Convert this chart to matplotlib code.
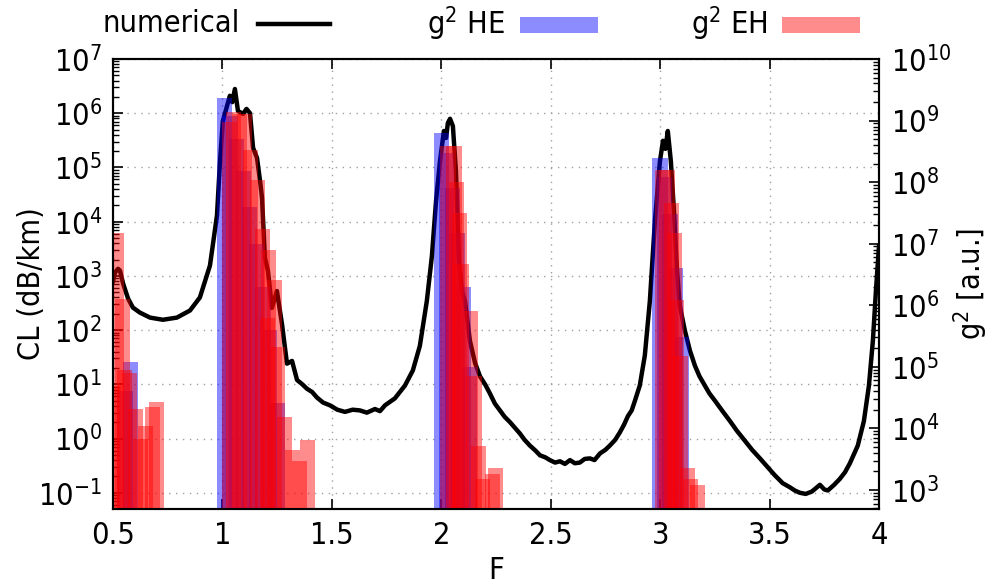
import math
import matplotlib
matplotlib.use("Agg")
import matplotlib.pyplot as plt
from matplotlib.ticker import LogLocator, FuncFormatter, NullFormatter, MultipleLocator, NullLocator
from matplotlib.lines import Line2D
from matplotlib.patches import Rectangle

plt.rcParams['font.family'] = ['DejaVu Sans']
plt.rcParams['font.stretch'] = 'condensed'
plt.rcParams['mathtext.default'] = 'regular'
FS = 22

# ---------------- data ----------------
F_num = [0.500, 0.509, 0.523, 0.532, 0.546, 0.569, 0.591, 0.623, 0.669, 0.728, 0.792, 0.852, 0.897,
         0.943, 0.975, 0.989, 1.002, 1.021, 1.034, 1.045, 1.057, 1.071, 1.094, 1.110, 1.126, 1.140,
         1.158, 1.172, 1.181, 1.194, 1.208, 1.226, 1.249, 1.272, 1.295, 1.318, 1.341, 1.365, 1.386,
         1.410, 1.432, 1.460, 1.491, 1.525, 1.560, 1.595, 1.628, 1.660, 1.697, 1.720, 1.743, 1.788,
         1.834, 1.870, 1.902, 1.934, 1.957, 1.976, 1.994, 2.012, 2.022, 2.030, 2.040, 2.053, 2.067,
         2.081, 2.094, 2.108, 2.131, 2.154, 2.177, 2.200, 2.222, 2.245, 2.268, 2.290, 2.314, 2.335,
         2.359, 2.380, 2.405, 2.430, 2.451, 2.475, 2.496, 2.520, 2.542, 2.565, 2.588, 2.610, 2.633,
         2.655, 2.679, 2.700, 2.725, 2.750, 2.770, 2.795, 2.816, 2.835, 2.853, 2.870, 2.885, 2.907,
         2.930, 2.953, 2.976, 2.999, 3.013, 3.024, 3.035, 3.049, 3.063, 3.077, 3.090, 3.113, 3.136,
         3.159, 3.180, 3.204, 3.225, 3.250, 3.285, 3.319, 3.350, 3.387, 3.420, 3.456, 3.490, 3.524,
         3.560, 3.593, 3.615, 3.638, 3.665, 3.693, 3.710, 3.730, 3.750, 3.766, 3.795, 3.821, 3.845,
         3.867, 3.903, 3.931, 3.954, 3.972, 3.986, 4.000]
CL_num = [800, 1150, 1350, 1250, 725, 380, 260, 210, 170, 155, 170, 230, 400,
          1550, 1.3e4, 1.3e5, 7.2e5, 1.36e6, 2.1e6, 1.6e6, 2.8e6, 1.1e6, 9.7e5, 1.2e6, 1.0e6, 2.3e5,
          1.5e5, 5.6e4, 2.7e4, 2150, 1230, 257, 525, 130, 24, 27, 12, 10, 8.3,
          7.2, 5.7, 4.6, 4.1, 3.4, 3.1, 3.4, 3.3, 3.0, 3.5, 3.2, 4.1, 5.5,
          9.5, 18, 51, 345, 2300, 2.4e4, 1.3e5, 4.7e5, 3.5e5, 6.6e5, 7.9e5, 5.8e5, 8.5e4,
          1860, 525, 345, 63, 25, 14, 10, 6.8, 4.4, 3.3, 2.5, 2.0, 1.6,
          1.24, 0.95, 0.74, 0.60, 0.49, 0.45, 0.40, 0.36, 0.38, 0.34, 0.40, 0.35, 0.36,
          0.42, 0.43, 0.40, 0.53, 0.62, 0.74, 0.95, 1.3, 1.8, 2.6, 3.3, 5.0, 9.5,
          34, 345, 1.0e4, 1.3e5, 3.1e5, 2.2e5, 4.7e5, 1.3e5, 1.6e4, 1230, 280, 98, 42,
          22, 14, 9.5, 6.8, 5.0, 3.2, 2.1, 1.4, 0.91, 0.62, 0.43, 0.30, 0.21,
          0.15, 0.126, 0.11, 0.10, 0.095, 0.105, 0.12, 0.14, 0.115, 0.11, 0.14, 0.18, 0.24,
          0.35, 0.74, 2.1, 9.5, 63, 535, 3550]

F_HE = [0.555, 0.579,
        1.008, 1.035, 1.065, 1.095, 1.125, 1.155, 1.185, 1.215, 1.251,
        2.002, 2.025, 2.050, 2.075, 2.100, 2.130,
        2.999, 3.020, 3.045, 3.070, 3.095]
g2_HE = [4e4, 1.2e5,
         2.3e9, 1.2e9, 5e8, 1.5e8, 4e7, 1e7, 2e6, 4e5, 2.6e4,
         6.2e8, 3e8, 8e7, 1.5e7, 2e6, 1e5,
         2.5e8, 1.2e8, 3e7, 4e6, 3e5]

F_EH = [0.500, 0.517, 0.543, 0.551, 0.574, 0.603, 0.627, 0.650, 0.680, 0.700,
        1.031, 1.050, 1.077, 1.100, 1.127, 1.159, 1.182, 1.209, 1.237, 1.205, 1.251, 1.283, 1.319,
        1.351, 1.388,
        2.030, 2.058, 2.070, 2.083, 2.090, 2.132, 2.150, 2.169, 2.187, 2.233, 2.247,
        3.013, 3.031, 3.052, 3.067, 3.074, 3.093, 3.124, 3.140, 3.172]
g2_EH = [4.8e4, 1.5e7, 1.26e6, 9e4, 8e4, 2.1e4, 6.8e3, 1.1e4, 2.2e4, 2.7e4,
         9.5e8, 1.4e9, 1.3e9, 1.3e9, 3.3e8, 1.1e8, 1.7e7, 7.9e6, 2.6e6, 6.3e5, 2.1e5, 1.55e4, 4.5e3,
         2.9e3, 6.5e3,
         3.8e8, 3.8e8, 1e8, 3.2e7, 4.6e6, 8e5, 7e4, 5.1e3, 1.5e3, 1.8e3, 2.3e3,
         1.6e8, 1.6e8, 4.6e7, 1.5e7, 1.2e6, 1.5e5, 2.3e3, 1.5e3, 1.2e3]

bar_width = 0.07

# ---------------- figure ----------------
fig = plt.figure(figsize=(9.92, 5.85), dpi=100)
ax1 = fig.add_axes([113/992, 76/585, 766/992, 450/585])
ax2 = ax1.twinx()

ax1.set_yscale('log')
ax2.set_yscale('log')
ax1.set_xlim(0.5, 4)
ax1.set_ylim(10**-1.3, 1e7)
ax2.set_ylim(10**2.69, 1e10)

ax1.grid(True, which='major', color='#a0a0a0', linestyle=(0, (1, 4)), linewidth=1.0)
ax1.plot(F_num, CL_num, color='black', lw=3.2, solid_joinstyle='round', zorder=3)

ax2.bar(F_HE, g2_HE, width=bar_width, bottom=1, color='#0000ff', alpha=0.45, linewidth=0)
ax2.bar(F_EH, g2_EH, width=bar_width, bottom=1, color='#ff0000', alpha=0.45, linewidth=0)

fmt = FuncFormatter(lambda v, p: r'10$^{%d}$' % round(math.log10(v)))
for ax in (ax1, ax2):
    ax.yaxis.set_major_locator(LogLocator(base=10, numticks=20))
    ax.yaxis.set_minor_locator(LogLocator(base=10, subs=range(2, 10), numticks=20))
    ax.yaxis.set_major_formatter(fmt)
    ax.yaxis.set_minor_formatter(NullFormatter())

ax1.xaxis.set_major_locator(MultipleLocator(0.5))
ax1.xaxis.set_minor_locator(NullLocator())
ax1.xaxis.set_major_formatter(FuncFormatter(lambda v, p: ('%g' % v)))

ax1.tick_params(axis='x', which='major', direction='in', top=True, length=7, width=1.2,
                labelsize=FS, pad=9)
ax1.tick_params(axis='y', which='major', direction='in', right=False, length=7, width=1.2,
                labelsize=FS, pad=8)
ax1.tick_params(axis='y', which='minor', direction='in', right=False, length=4, width=1)
ax2.tick_params(axis='y', which='major', direction='in', length=7, width=1.2, labelsize=FS, pad=9)
ax2.tick_params(axis='y', which='minor', direction='in', length=4, width=1)

for ax in (ax1, ax2):
    for s in ax.spines.values():
        s.set_linewidth(1.5)

ax1.set_xlabel('F', fontsize=FS)
ax1.xaxis.set_label_coords(0.5, -0.105)
ax1.set_ylabel('CL (dB/km)', fontsize=FS)
ax1.yaxis.set_label_coords(-0.088, 0.5)
ax2.set_ylabel('g$^2$ [a.u.]', fontsize=FS)
ax2.yaxis.set_label_coords(1.094, 0.5)

# ---------------- key (above plot) ----------------
ky = 1 - 24/585
fig.text(240/992, ky, 'numerical', fontsize=FS, ha='right', va='center')
fig.add_artist(Line2D([258/992, 330/992], [ky, ky], color='black', lw=3.2, transform=fig.transFigure))
fig.text(505/992, ky, 'g$^2$ HE', fontsize=FS, ha='right', va='center')
fig.add_artist(Rectangle((520/992, 1 - 33/585), 78/992, 16/585, transform=fig.transFigure,
                         facecolor='#0000ff', alpha=0.45, linewidth=0))
fig.text(768/992, ky, 'g$^2$ EH', fontsize=FS, ha='right', va='center')
fig.add_artist(Rectangle((782/992, 1 - 33/585), 78/992, 16/585, transform=fig.transFigure,
                         facecolor='#ff0000', alpha=0.45, linewidth=0))

fig.savefig('out.png', dpi=100)
